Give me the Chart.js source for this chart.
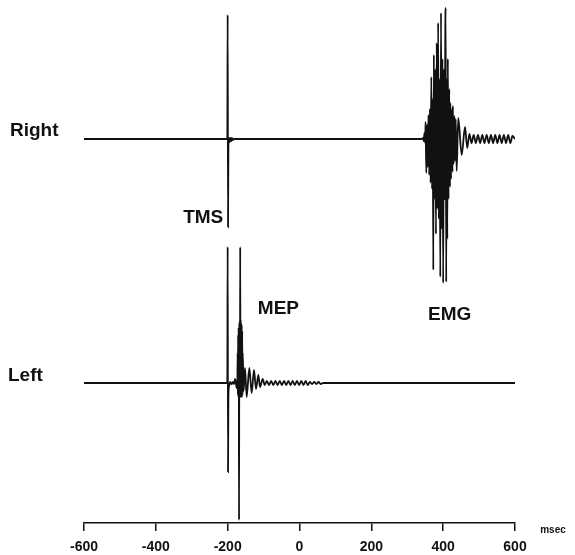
<!DOCTYPE html>
<html>
<head>
<meta charset="utf-8">
<script src="https://cdn.jsdelivr.net/npm/chart.js@4/dist/chart.umd.min.js"></script>
<style>
  html, body { margin: 0; padding: 0; background: #ffffff; }
  canvas { display: block; }
</style>
</head>
<body>
<canvas id="c" width="575" height="555"></canvas>
<script>
// ---- Data (time in msec, amplitude in arbitrary units, up = positive) ----
const traceNames = ['Right', 'Left'];
const eventLabels = ['TMS', 'MEP', 'EMG'];
const xTicks = [-600, -400, -200, 0, 200, 400, 600];
const xUnit = 'msec';

// Right hemisphere trace: TMS artefact at -200 ms, EMG burst ~345-440 ms, ringing tail
const rightT = [-600, -204, -201, -200, -199, -198, -196, -194, -192, -190, -188, -185, -182,
  340, 344, 346, 348, 350, 351, 353, 355, 357, 359, 361, 363, 365, 367, 369, 371, 372.5, 374, 376,
  378, 380, 382, 384, 386, 388, 390, 392, 394, 396, 398, 400, 402, 404, 406, 407, 408.5, 410, 411.5,
  413, 415, 417, 419, 420, 422, 424, 426, 427, 429, 431, 433, 435, 437.5, 442, 451.6, 460.8, 467,
  473, 479, 485, 491, 497, 503, 509, 515, 521, 527, 533, 539, 545, 551, 557, 563, 569,
  575, 581, 587, 593, 600];
const rightV = [0, 0, 0, 124, -88, -8, 1, -3, 1, -2, 1, -1, 0,
  0, 1, -2, 6, -4, 17, -34, 14, -28, 24, -36, 30, -44, 62, -50, 40, -131, 84, -60,
  70, -95, 96, -70, 116, -80, 60, -138, 126, -90, 80, -144, 70, -60, 111, 131, -143, 60, -100,
  80, -60, 50, -48, 36, -40, 30, -33, 33, -25, 23, -22, 20, -32, 21, -16, 12, -9,
  5, -4, 4, -4, 4, -4, 4, -4, 4, -4, 4, -4, 4, -4, 4, -4, 4,
  -4, 4, -4, 3, 0];

// Left hemisphere trace: TMS artefact at -200 ms, MEP ~-173..-158 ms with damped oscillation
const leftT = [-600, -203, -201, -200, -199, -198, -196, -193, -189, -185, -182, -179.6, -177, -175,
  -174, -173, -172.3, -171.6, -170.9, -170.2, -169.5, -168.8, -168.3, -167.6, -166.9, -166.3, -165.7,
  -165.1, -164.4, -163.7, -163, -162.3, -161.6, -160.9, -160.2, -159.5, -158.8, -158,
  -155.5, -151.7, -147.1, -139.7, -133.2, -126.7, -121.1, -114.6, -110, -102.6, -97,
  -91, -85, -79, -73, -67, -61, -55, -49, -43, -37, -31, -25, -19, -13, -7, -1, 5, 11, 17, 23, 29,
  35, 41, 47, 53, 59, 66, 600];
const leftV = [0, 0, 0, 136, -89, -14, -3, 1, -1, 1, -1, 4, 0, -5,
  0, -6, 30, -12, 48, -14, 55, -14, -137, 60, -14, 62, -14,
  136, -14, 63, -14, 60, -14, 58, -14, 52, -12, 30,
  -8, 15, -14, 15, -10, 13, -6, 8, -4, 4, -2,
  2, -2, 2, -2, 2, -2, 2, -2, 2, -2, 2, -2, 2, -2, 2, -2, 2, -2, 2, -2, 1,
  -1, 1, -1, 1, -1, 0, 0];

// ---- Build chart ----
const toXY = (t, v) => t.map((tt, i) => ({ x: tt, y: v[i] }));
const FONT = '"Liberation Sans", Arial, Helvetica, sans-serif';
const INK = '#111111';

const annotations = {
  id: 'annotations',
  afterDatasetsDraw(chart) {
    const { ctx, scales } = chart;
    const x = scales.x, yR = scales.yR, yL = scales.yL;
    ctx.save();
    ctx.fillStyle = INK;
    ctx.textAlign = 'left';
    ctx.textBaseline = 'alphabetic';
    ctx.font = 'bold 19px ' + FONT;
    ctx.fillText(traceNames[0], 10, yR.getPixelForValue(0) - 3);
    ctx.fillText(traceNames[1], 8, yL.getPixelForValue(0) - 2);
    ctx.fillText(eventLabels[0], x.getPixelForValue(-324), yR.getPixelForValue(-84));
    ctx.fillText(eventLabels[1], x.getPixelForValue(-116), yL.getPixelForValue(69));
    ctx.fillText(eventLabels[2], x.getPixelForValue(358), yL.getPixelForValue(63));
    ctx.font = 'bold 10px ' + FONT;
    ctx.textAlign = 'center';
    ctx.fillText(xUnit, x.right + 38, x.top + 10);
    ctx.restore();
  }
};

const lineStyle = { borderColor: INK, borderWidth: 1.8, pointRadius: 0,
  cubicInterpolationMode: 'monotone', fill: false };

new Chart(document.getElementById('c'), {
  type: 'line',
  data: {
    datasets: [
      Object.assign({ label: traceNames[0], data: toXY(rightT, rightV), yAxisID: 'yR' }, lineStyle),
      Object.assign({ label: traceNames[1], data: toXY(leftT, leftV), yAxisID: 'yL' }, lineStyle)
    ]
  },
  options: {
    responsive: false,
    animation: false,
    layout: { padding: { left: 84, right: 60, top: 0, bottom: 0 } },
    plugins: { legend: { display: false }, tooltip: { enabled: false } },
    scales: {
      x: {
        type: 'linear', min: -600, max: 600,
        afterBuildTicks: (s) => { s.ticks = xTicks.map(v => ({ value: v })); },
        afterFit: (s) => { s.height = 32; },
        ticks: { color: INK, padding: 8, font: { family: FONT, size: 14, weight: 'bold' } },
        grid: { display: true, drawOnChartArea: false, drawTicks: true, tickLength: 8,
                color: INK, lineWidth: 1.5 },
        border: { display: true, color: INK, width: 1.5 }
      },
      yR: { type: 'linear', display: false, min: -384, max: 139 },
      yL: { type: 'linear', display: false, min: -140, max: 383 }
    }
  },
  plugins: [annotations]
});
</script>
</body>
</html>
